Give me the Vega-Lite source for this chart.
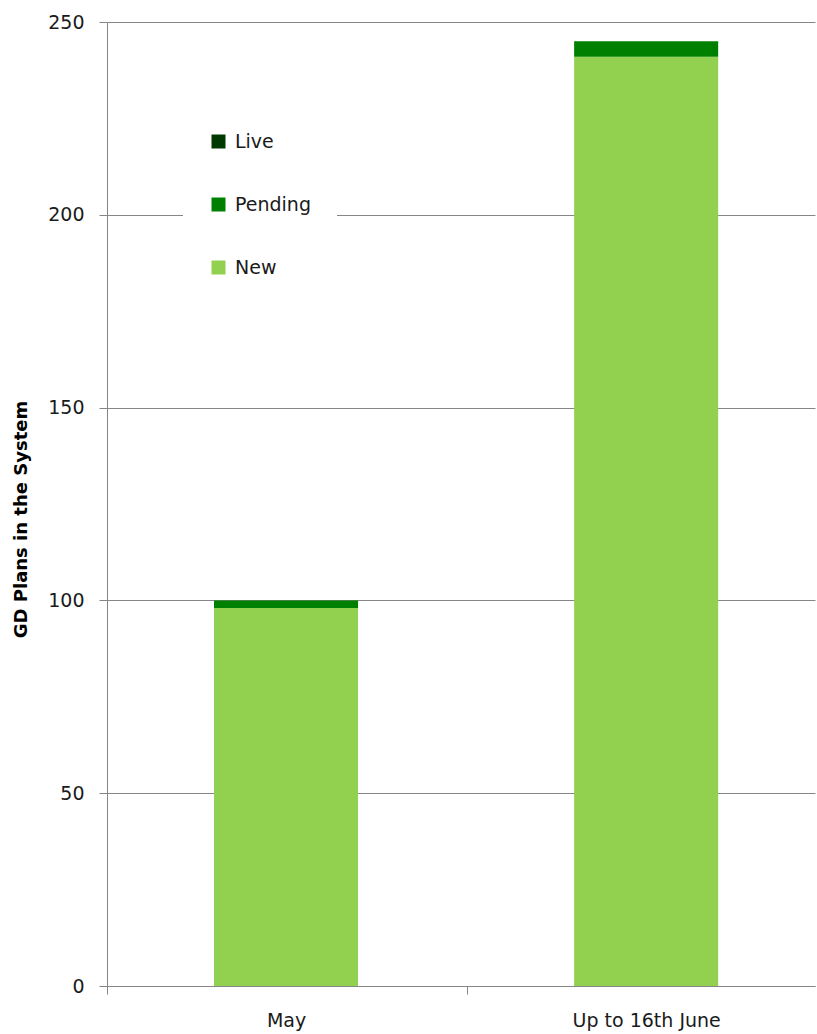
{
  "$schema": "https://vega.github.io/schema/vega-lite/v6.json",
  "autosize": "none",
  "padding": {"left": 107, "top": 22, "right": 2, "bottom": 48},
  "width": 708,
  "height": 964,
  "background": "white",
  "config": {
    "font": "DejaVu Sans",
    "view": {"stroke": null}
  },
  "data": {
    "values": [
      {"period": "May", "series": "New", "value": 98},
      {"period": "May", "series": "Pending", "value": 2},
      {"period": "May", "series": "Live", "value": 0},
      {"period": "Up to 16th June", "series": "New", "value": 241},
      {"period": "Up to 16th June", "series": "Pending", "value": 4},
      {"period": "Up to 16th June", "series": "Live", "value": 0}
    ]
  },
  "mark": {"type": "bar"},
  "encoding": {
    "x": {
      "field": "period",
      "type": "nominal",
      "sort": ["May", "Up to 16th June"],
      "scale": {"paddingInner": 0.6, "paddingOuter": 0.283, "align": 0.525},
      "axis": {
        "title": null,
        "labelAngle": 0,
        "labelFontSize": 19,
        "labelColor": "#1a1a1a",
        "labelPadding": 17,
        "tickOffset": -179,
        "labelOffset": 179,
        "tickSize": 8,
        "tickColor": "#868686",
        "domainColor": "#868686",
        "grid": false
      }
    },
    "y": {
      "field": "value",
      "type": "quantitative",
      "stack": "zero",
      "scale": {"domain": [0, 250], "nice": false},
      "axis": {
        "values": [0, 50, 100, 150, 200, 250],
        "title": "GD Plans in the System",
        "titleFontSize": 18,
        "titleFontWeight": "bold",
        "titleColor": "#000000",
        "titleX": -86,
        "titleY": 497,
        "titleAngle": -90,
        "titleBaseline": "middle",
        "labelFontSize": 19,
        "labelColor": "#1a1a1a",
        "labelPadding": 15,
        "tickSize": 8,
        "tickColor": "#868686",
        "domainColor": "#868686",
        "gridColor": "#868686",
        "grid": true
      }
    },
    "color": {
      "field": "series",
      "type": "nominal",
      "scale": {
        "domain": ["Live", "Pending", "New"],
        "range": ["#003a00", "#008000", "#92d050"]
      },
      "legend": {
        "title": null,
        "orient": "none",
        "legendX": 76,
        "legendY": 84,
        "fillColor": "white",
        "padding": 26,
        "symbolType": "square",
        "symbolSize": 196,
        "symbolStrokeWidth": 0,
        "labelFontSize": 19,
        "labelColor": "#1a1a1a",
        "labelOffset": 7,
        "rowPadding": 43
      }
    },
    "order": {"field": "series", "sort": "ascending"}
  }
}
